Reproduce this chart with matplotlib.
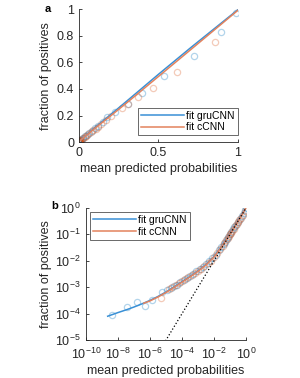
import numpy as np
import matplotlib
matplotlib.use('Agg')
import matplotlib.pyplot as plt

plt.rcParams['font.family'] = ['Liberation Sans', 'DejaVu Sans']
plt.rcParams['mathtext.fontset'] = 'custom'
plt.rcParams['mathtext.rm'] = 'Liberation Sans'
plt.rcParams['mathtext.it'] = 'Liberation Sans'

# калібрувальні точки: log10 для малих значень, лінійні для великих
gru_lx = [-8.36, -7.44, -6.79, -6.29, -5.86, -5.23, -4.92, -4.7, -4.5, -4.3, -4.1, -3.9, -3.7,
          -3.5, -3.3, -3.1, -2.9, -2.7, -2.5, -2.3, -2.1, -1.9, -1.7, -1.55, -1.4]
gru_ly = [-4.05, -3.76, -3.57, -3.71, -3.48, -3.17, -3.1, -3.03, -2.95, -2.9, -2.8, -2.72, -2.66,
          -2.57, -2.5, -2.4, -2.33, -2.22, -2.12, -2.02, -1.9, -1.77, -1.6, -1.48, -1.36]
gru_x_lin = [0.05, 0.065, 0.08, 0.1, 0.12, 0.15, 0.178, 0.226, 0.31, 0.394, 0.535, 0.723, 0.893, 0.987]
gru_y_lin = [0.051, 0.067, 0.082, 0.103, 0.124, 0.155, 0.19, 0.223, 0.286, 0.371, 0.496, 0.647, 0.827, 0.97]

cnn_lx = [-5.33, -4.8, -4.6, -4.4, -4.2, -4.0, -3.8, -3.6, -3.4, -3.2, -3.0, -2.8, -2.6, -2.4,
          -2.2, -2.0, -1.8, -1.6, -1.45]
cnn_ly = [-3.42, -3.08, -3.0, -2.93, -2.86, -2.78, -2.7, -2.62, -2.55, -2.45, -2.38, -2.3, -2.2, -2.1,
          -2.0, -1.86, -1.72, -1.56, -1.45]
cnn_x_lin = [0.045, 0.06, 0.075, 0.09, 0.105, 0.12, 0.14, 0.17, 0.2, 0.268, 0.308, 0.373, 0.467, 0.617, 0.855]
cnn_y_lin = [0.045, 0.059, 0.073, 0.088, 0.102, 0.116, 0.135, 0.163, 0.2, 0.253, 0.29, 0.336, 0.406, 0.526, 0.75]

# криві підгонки (log10)
fit_gru_lx = [-8.65, -8, -7.5, -7, -6.5, -6, -5.5, -5, -4.5, -4, -3.5, -3, -2.5, -2, -1.5, -1,
              -0.7, -0.5, -0.3, -0.15, 0]
fit_gru_ly = [-4.10, -3.96, -3.86, -3.75, -3.63, -3.50, -3.35, -3.18, -2.99, -2.79, -2.59, -2.38,
              -2.14, -1.84, -1.43, -0.965, -0.685, -0.49, -0.292, -0.146, -0.002]
fit_cnn_lx = [-6.4, -6, -5.5, -5, -4.5, -4, -3.5, -3, -2.5, -2, -1.5, -1, -0.7, -0.5, -0.3, -0.15, 0]
fit_cnn_ly = [-3.61, -3.52, -3.37, -3.20, -3.01, -2.81, -2.61, -2.40, -2.16, -1.86, -1.45, -0.985,
              -0.705, -0.508, -0.306, -0.155, -0.004]

blue = '#0072BD'
orange = '#D95319'
blue_fit = '#3990d6'
orange_fit = '#e3825d'
axcol = '#262626'

gru_x = np.concatenate([10 ** np.array(gru_lx), gru_x_lin])
gru_y = np.concatenate([10 ** np.array(gru_ly), gru_y_lin])
cnn_x = np.concatenate([10 ** np.array(cnn_lx), cnn_x_lin])
cnn_y = np.concatenate([10 ** np.array(cnn_ly), cnn_y_lin])
fg_x, fg_y = 10 ** np.array(fit_gru_lx), 10 ** np.array(fit_gru_ly)
fc_x, fc_y = 10 ** np.array(fit_cnn_lx), 10 ** np.array(fit_cnn_ly)

fig = plt.figure(figsize=(3.0, 3.78), dpi=100)
ax1 = fig.add_axes([0.263, 0.624, 0.530, 0.352])
ax2 = fig.add_axes([0.287, 0.1005, 0.533, 0.3495])

def style(ax):
    for s in ['top', 'right']:
        ax.spines[s].set_visible(False)
    for s in ['left', 'bottom']:
        ax.spines[s].set_color(axcol)
        ax.spines[s].set_linewidth(0.6)
    ax.tick_params(direction='in', colors=axcol, labelsize=9, width=0.6, length=2.5)
    ax.tick_params(which='minor', direction='in', colors=axcol, width=0.5, length=1.5)

mk = dict(marker='o', linestyle='none', markersize=4.5, markerfacecolor='none', markeredgewidth=0.9)

for ax in (ax1, ax2):
    ax.plot(gru_x, gru_y, color=blue, alpha=0.3, **mk)
    ax.plot(cnn_x, cnn_y, color=orange, alpha=0.3, **mk)
    ax.plot(fg_x, fg_y, color=blue_fit, lw=1.1, label='fit gruCNN')
    ax.plot(fc_x, fc_y, color=orange_fit, lw=1.1, label='fit cCNN')
    style(ax)

leg_kw = dict(fontsize=7.5, frameon=True, fancybox=False, borderaxespad=0, handlelength=4.1,
              handletextpad=0.2, borderpad=0.3, labelspacing=0.15)

ax1.set_xlim(0, 1)
ax1.set_ylim(0, 1)
ax1.set_xticks([0, 0.5, 1])
ax1.set_xticklabels(['0', '0.5', '1'])
ax1.set_yticks([0, 0.2, 0.4, 0.6, 0.8, 1])
ax1.set_yticklabels(['0', '0.2', '0.4', '0.6', '0.8', '1'])
ax1.set_xlabel('mean predicted probabilities', fontsize=9, color=axcol, labelpad=3)
ax1.set_ylabel('fraction of positives', fontsize=9, color=axcol, labelpad=3)
leg1 = ax1.legend(loc='lower right', bbox_to_anchor=(1.0, 0.05), **leg_kw)
leg1.get_frame().set_edgecolor(axcol)
leg1.get_frame().set_linewidth(0.6)

ax2.plot([1e-6, 1], [1e-6, 1], ':', color='black', lw=0.9)
ax2.set_xscale('log')
ax2.set_yscale('log')
ax2.set_xlim(1e-10, 1)
ax2.set_ylim(1e-5, 1)
ax2.set_xticks([1e-10, 1e-8, 1e-6, 1e-4, 1e-2, 1])
ax2.set_yticks([1e-5, 1e-4, 1e-3, 1e-2, 1e-1, 1])
ax2.tick_params(axis='x', pad=5)
ax2.tick_params(axis='y', pad=4)
ax2.set_xlabel('mean predicted probabilities', fontsize=9, color=axcol, labelpad=2)
ax2.set_ylabel('fraction of positives', fontsize=9, color=axcol, labelpad=2)
leg2 = ax2.legend(loc='upper left', bbox_to_anchor=(0.025, 0.97), **leg_kw)
leg2.get_frame().set_edgecolor(axcol)
leg2.get_frame().set_linewidth(0.6)

fig.text(0.15, 0.975, 'a', fontsize=8, fontweight='bold', va='center')
fig.text(0.17, 0.455, 'b', fontsize=8, fontweight='bold', va='center')

fig.savefig('out.png', dpi=100)
